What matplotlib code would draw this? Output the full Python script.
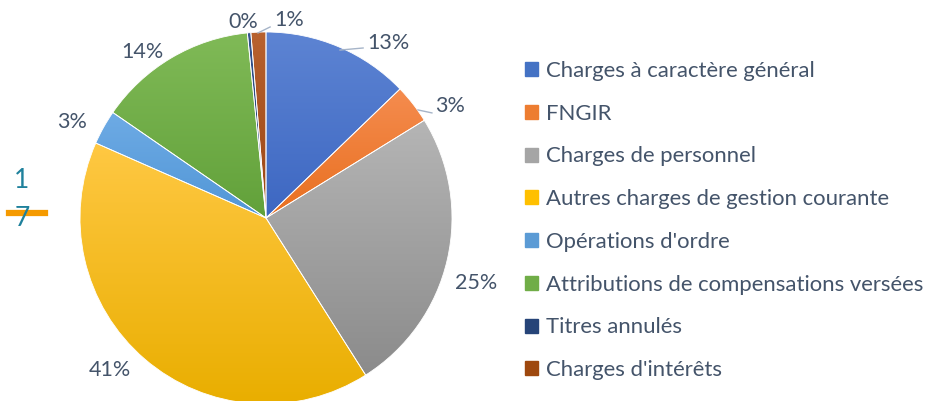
import matplotlib.pyplot as plt
import numpy as np
from matplotlib.colors import LinearSegmentedColormap

# data
categories = ["Charges à caractère général", "FNGIR", "Charges de personnel",
              "Autres charges de gestion courante", "Opérations d'ordre",
              "Attributions de compensations versées", "Titres annulés",
              "Charges d'intérêts"]
values = [12.8, 3.4, 24.8, 40.6, 3.0, 13.8, 0.3, 1.3]

# light (top) -> dark (bottom) colours for each slice
tops = ["#5d84d3", "#f58c4f", "#b5b5b5", "#ffc843", "#6eabe5", "#80ba57", "#34548f", "#b8622f"]
bottoms = ["#3d67c2", "#e86f1f", "#8b8b8b", "#e9ae00", "#5196d6", "#62a13a", "#1f3a6b", "#9a4513"]
mids = ["#4472c4", "#ed7d31", "#a5a5a5", "#ffc000", "#5b9bd5", "#70ad47", "#264478", "#9e480e"]

# label positions (axes data units, pie radius = 1)
label_pos = [(0.656, 0.941), (0.989, 0.602), (1.129, -0.349), (-0.839, -0.817),
             (-1.043, 0.516), (-0.667, 0.892), (-0.124, 1.054), (0.124, 1.065)]
leaders = {0: [(0.398, 0.903), (0.522, 0.914)],
           1: [(0.817, 0.581), (0.892, 0.565)],
           7: [(-0.043, 0.995), (0.022, 1.027)]}

plt.rcParams['font.family'] = ['Lato', 'DejaVu Sans']
txt_col = "#44546a"

fig = plt.figure(figsize=(9.28, 4.01), dpi=100)
W, H = 928, 401
cx, cy, r = 266, 218, 186
ax = fig.add_axes([(cx - r) / W, (H - cy - r) / H, 2 * r / W, 2 * r / H])
ax.set_xlim(-1, 1)
ax.set_ylim(-1, 1)
ax.set_aspect('equal')
ax.axis('off')

wedges, _ = ax.pie(values, colors=mids, startangle=90, counterclock=False,
                   radius=1, wedgeprops=dict(edgecolor='white', linewidth=0.6))

grad = np.linspace(0, 1, 256).reshape(-1, 1)
for w, c1, c2 in zip(wedges, tops, bottoms):
    ext = w.get_path().get_extents()
    cmap = LinearSegmentedColormap.from_list('g', [c1, c2])
    im = ax.imshow(grad, cmap=cmap, origin='upper', aspect='auto',
                   extent=(ext.x0, ext.x1, ext.y0, ext.y1), zorder=1.5)
    im.set_clip_path(w)
    w.set_facecolor('none')
    w.set_zorder(2)
ax.set_xlim(-1, 1)
ax.set_ylim(-1, 1)

total = sum(values)
for i, v in enumerate(values):
    x, y = label_pos[i]
    ax.text(x, y, f"{round(v / total * 100):.0f}%", ha='center', va='center',
            fontsize=15.5, color=txt_col, clip_on=False)
for i, pts in leaders.items():
    xs, ys = zip(*pts)
    ax.plot(xs, ys, color="#a6b4c8", lw=1.0, clip_on=False, zorder=3)

# legend
handles = [plt.Rectangle((0, 0), 1, 1, color=c) for c in mids]
fig.legend(handles, categories, loc='upper left', bbox_to_anchor=(525 / W, 1 - 61 / H),
           frameon=False, fontsize=15.9, labelcolor=txt_col, handlelength=0.6,
           handleheight=0.6, handletextpad=0.33, labelspacing=1.03,
           borderpad=0, borderaxespad=0)

# stray page marks on the left
fig.text(22 / W, 1 - 180 / H, "1", color="#1f819c", fontsize=19, ha='center', va='center')
fig.text(22 / W, 1 - 218 / H, "7", color="#1f819c", fontsize=19, ha='center', va='center')
fig.add_artist(plt.Line2D([9 / W, 45 / W], [1 - 213 / H, 1 - 213 / H], color="#f59a00", lw=4.5))

fig.savefig("out.png", dpi=100, facecolor='white')
